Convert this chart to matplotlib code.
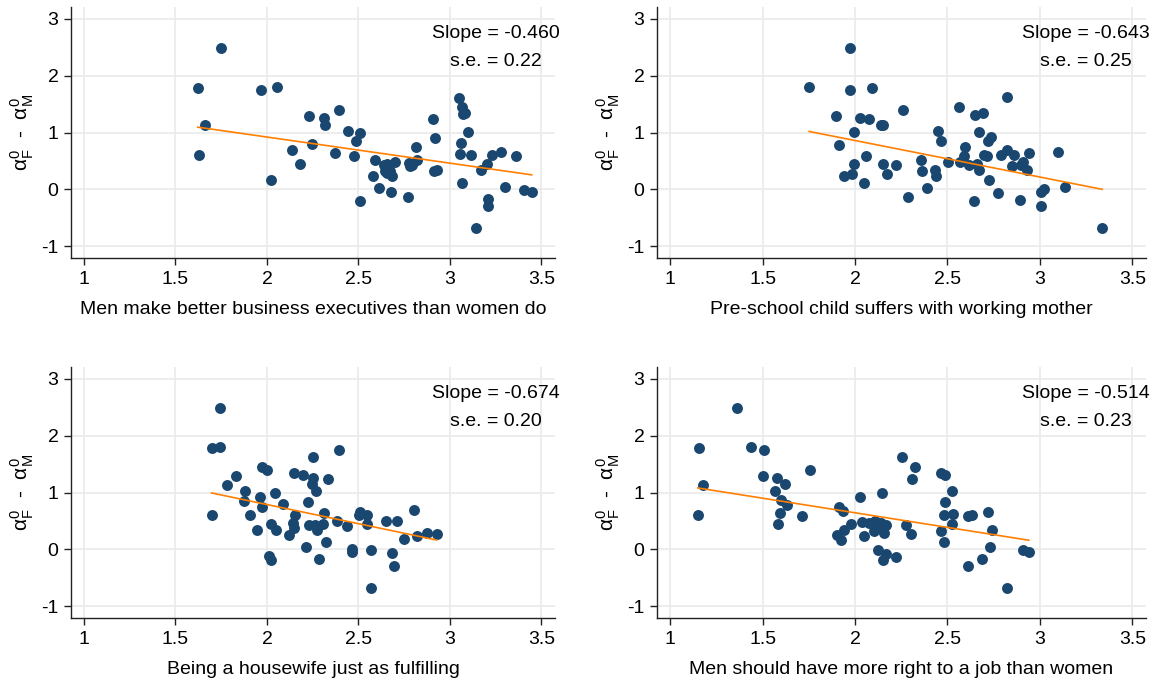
import numpy as np
import matplotlib
matplotlib.use("Agg")
import matplotlib.pyplot as plt

plt.rcParams['font.family'] = ['Liberation Sans', 'DejaVu Sans']
plt.rcParams['mathtext.fontset'] = 'custom'
plt.rcParams['mathtext.rm'] = 'Liberation Sans'
plt.rcParams['mathtext.it'] = 'Liberation Sans:italic'
plt.rcParams['axes.unicode_minus'] = False

# data
x_exec = [1.751, 1.622, 1.664, 1.628, 1.967, 2.056, 2.020, 2.139, 2.181, 2.232,
          2.246, 2.309, 2.317, 2.391, 2.371, 2.444, 2.508, 2.484, 2.473, 2.509,
          2.591, 2.582, 2.613, 2.637, 2.655, 2.701, 2.646, 2.673, 2.683, 2.655,
          2.677, 2.768, 2.814, 2.774, 2.792, 2.819, 2.783, 2.908, 2.920, 2.912,
          2.930, 3.052, 3.064, 3.070, 3.082, 3.098, 3.060, 3.056, 3.064, 3.117,
          3.141, 3.171, 3.201, 3.209, 3.209, 3.227, 3.280, 3.300, 3.361, 3.403,
          3.447]
y_exec = [2.485, 1.782, 1.138, 0.599, 1.753, 1.805, 0.165, 0.687, 0.447, 1.284,
          0.798, 1.261, 1.138, 1.401, 0.640, 1.020, 0.997, 0.850, 0.592, -0.198,
          0.522, 0.241, 0.025, 0.434, 0.452, 0.475, 0.317, 0.317, 0.241, 0.288,
          -0.053, -0.134, 0.745, 0.464, 0.434, 0.510, 0.404, 1.237, 0.909, 0.330,
          0.335, 1.612, 1.442, 1.325, 1.340, 1.009, 0.821, 0.616, 0.119, 0.599,
          -0.684, 0.335, 0.447, -0.168, -0.297, 0.605, 0.657, 0.037, 0.587, -0.010,
          -0.045]

x_child = [1.971, 1.752, 1.975, 2.093, 1.895, 2.025, 2.077, 2.140, 2.154, 2.262,
           1.997, 1.911, 2.057, 1.995, 1.943, 1.985, 2.049, 2.154, 2.174, 2.220,
           2.286, 2.356, 2.360, 2.392, 2.433, 2.439, 2.449, 2.463, 2.505, 2.563,
           2.593, 2.589, 2.569, 2.619, 2.659, 2.669, 2.641, 2.649, 2.695, 2.671,
           2.699, 2.713, 2.720, 2.736, 2.727, 2.774, 2.822, 2.788, 2.822, 2.858,
           2.848, 2.908, 2.898, 2.933, 2.942, 2.892, 3.008, 3.020, 3.008, 3.099,
           3.135, 3.337]
y_child = [2.485, 1.799, 1.753, 1.782, 1.284, 1.255, 1.237, 1.138, 1.138, 1.395,
           1.009, 0.786, 0.593, 0.447, 0.230, 0.277, 0.113, 0.447, 0.271, 0.435,
           -0.139, 0.511, 0.318, 0.019, 0.347, 0.230, 1.032, 0.857, 0.482, 1.442,
           0.739, 0.581, 0.482, 0.423, 0.447, 0.335, -0.198, 1.307, 1.343, 1.003,
           0.611, 0.581, 0.845, 0.915, 0.166, -0.063, 1.618, 0.599, 0.687, 0.599,
           0.417, 0.476, 0.423, 0.335, 0.640, -0.180, -0.051, 0.004, -0.297, 0.652,
           0.037, -0.684]

x_house = [1.743, 1.697, 1.743, 1.697, 1.784, 1.828, 1.882, 1.876, 1.905, 1.943,
           1.963, 1.973, 1.973, 1.998, 2.044, 2.088, 2.020, 2.050, 2.010, 2.020,
           2.121, 2.141, 2.149, 2.155, 2.149, 2.199, 2.252, 2.252, 2.246, 2.266,
           2.226, 2.232, 2.260, 2.276, 2.307, 2.313, 2.323, 2.286, 2.212, 2.331,
           2.393, 2.381, 2.438, 2.462, 2.464, 2.502, 2.508, 2.549, 2.549, 2.569,
           2.571, 2.650, 2.684, 2.692, 2.712, 2.751, 2.805, 2.822, 2.876, 2.927]
y_house = [2.484, 1.780, 1.809, 0.595, 1.135, 1.282, 1.029, 0.853, 0.595, 0.331,
           0.918, 0.742, 1.446, 1.399, 1.000, 0.795, 0.449, 0.331, -0.126, -0.196,
           0.243, 0.460, 0.372, 0.607, 1.352, 1.311, 1.622, 1.264, 1.147, 1.018,
           0.824, 0.431, 0.431, 0.343, 0.449, 0.636, 0.120, -0.173, 0.038, 1.246,
           1.751, 0.490, 0.414, 0.009, -0.050, 0.595, 0.648, 0.595, 0.449, -0.009,
           -0.683, 0.501, -0.067, -0.290, 0.490, 0.179, 0.695, 0.226, 0.284, 0.273]

x_job = [1.363, 1.154, 1.179, 1.150, 1.437, 1.508, 1.500, 1.580, 1.622, 1.568,
         1.602, 1.632, 1.596, 1.586, 1.712, 1.756, 1.911, 1.935, 1.905, 1.925,
         1.943, 1.981, 2.025, 2.036, 2.076, 2.109, 2.140, 2.113, 2.167, 2.158,
         2.104, 2.049, 2.146, 2.126, 2.166, 2.154, 2.224, 2.256, 2.322, 2.306,
         2.276, 2.302, 2.463, 2.489, 2.489, 2.525, 2.479, 2.529, 2.523, 2.465,
         2.483, 2.613, 2.633, 2.609, 2.685, 2.720, 2.742, 2.732, 2.822, 2.908,
         2.940]
y_job = [2.484, 1.780, 1.135, 0.595, 1.809, 1.751, 1.282, 1.264, 1.147, 1.018,
         0.871, 0.783, 0.636, 0.443, 0.589, 1.399, 0.742, 0.677, 0.255, 0.167,
         0.331, 0.449, 0.912, 0.488, 0.471, 0.506, 0.459, 0.388, 0.429, 0.282,
         0.329, 0.235, 1.000, -0.009, -0.085, -0.196, -0.138, 1.622, 1.446, 1.241,
         0.431, 0.273, 1.340, 1.311, 0.824, 1.018, 0.595, 0.619, 0.449, 0.325,
         0.120, 0.589, 0.595, -0.290, -0.173, 0.654, 0.331, 0.038, -0.683, -0.009,
         -0.044]

xlabels = ["Men make better business executives than women do",
           "Pre-school child suffers with working mother",
           "Being a housewife just as fulfilling",
           "Men should have more right to a job than women"]
slopes = [-0.460, -0.643, -0.674, -0.514]
intercepts = [1.840, 2.145, 2.136, 1.671]
ses = ["0.22", "0.25", "0.20", "0.23"]

xs = [x_exec, x_child, x_house, x_job]
ys = [y_exec, y_child, y_house, y_job]

navy = '#1a476f'
orange = '#ff7f00'

fig = plt.figure(figsize=(11.53, 6.86), dpi=100)
W, H = 1153, 686
# axes boxes in pixels: left, top, right, bottom
boxes = [(71, 7, 555, 258), (657, 7, 1146, 258),
         (71, 367, 555, 618), (657, 367, 1146, 618)]

for i in range(4):
    l, t, r, b = boxes[i]
    ax = fig.add_axes([l / W, 1 - b / H, (r - l) / W, (b - t) / H])
    x = np.array(xs[i])
    y = np.array(ys[i])
    ax.scatter(x, y, s=62, color=navy, linewidths=0, zorder=3)
    xf = np.array([x.min(), x.max()])
    ax.plot(xf, intercepts[i] + slopes[i] * xf, color=orange, lw=1.2, zorder=4)

    ax.set_xlim(0.929, 3.574)
    ax.set_ylim(-1.21, 3.21)
    ax.set_xticks([1, 1.5, 2, 2.5, 3, 3.5])
    ax.set_xticklabels(['1', '1.5', '2', '2.5', '3', '3.5'])
    ax.set_yticks([-1, 0, 1, 2, 3])
    ax.grid(True, color='#eaeaea', lw=1.2, zorder=0)
    ax.set_axisbelow(True)
    for s in ['top', 'right']:
        ax.spines[s].set_visible(False)
    for s in ['left', 'bottom']:
        ax.spines[s].set_color('#222222')
        ax.spines[s].set_linewidth(1.0)
    ax.tick_params(direction='out', length=5, width=1, color='#222222',
                   labelsize=14, pad=4)

    ax.set_xlabel(xlabels[i], fontsize=14)
    ax.xaxis.set_label_coords(0.5, -0.205)
    ax.xaxis.label.set_va('center')
    ax.set_ylabel(r'$\mathrm{α}^{0}_{\mathrm{F}}$  -  $\mathrm{α}^{0}_{\mathrm{M}}$', fontsize=15)
    ax.yaxis.set_label_coords(-0.1, 0.5)
    ax.yaxis.label.set_va('center')

    ax.text(3.25, 2.75, 'Slope = %.3f' % slopes[i], ha='center', va='center', fontsize=14)
    ax.text(3.25, 2.25, 's.e. = ' + ses[i], ha='center', va='center', fontsize=14)

fig.savefig('out.png', dpi=100, facecolor='white')
